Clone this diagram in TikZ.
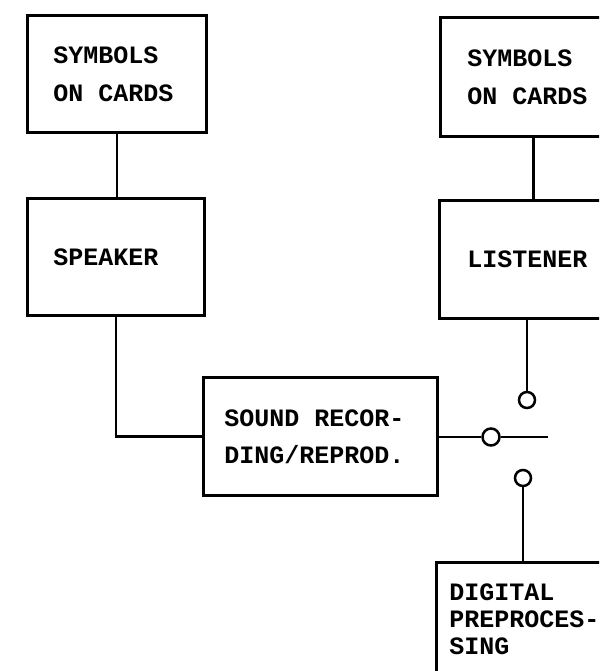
\documentclass[tikz,border=0pt]{standalone}
\usepackage{fontspec}
\setmonofont{Liberation Mono}
% fixed-width gap between typewritten words
\newcommand\tgap{\kern0.6em\relax}
\begin{document}
\begin{tikzpicture}[x=1pt,y=-1pt,
  wire/.style={line width=2.8pt},
  blk/.style={draw, line width=2.8pt, rectangle, anchor=north west, align=left,
    inner ysep=0pt, font=\ttfamily\bfseries\fontsize{25}{38}\selectfont},
  contact/.style={draw, circle, line width=2.5pt, minimum size=16pt, inner sep=0pt}]
\useasboundingbox (0,0) rectangle (599,671);
\clip (0,0) rectangle (599,671);

% speaker side
\node[blk, minimum height=117pt, text width=127pt, inner xsep=26pt] (cardsA) at (26,14) {SYMBOLS\\ON\tgap CARDS};
\node[blk, minimum height=117pt, text width=125pt, inner xsep=26pt] (speaker) at (26,197) {SPEAKER};

% listener side
\node[blk, minimum height=119pt, text width=132pt, inner xsep=27pt] (cardsB) at (439,16) {SYMBOLS\\ON\tgap CARDS};
\node[blk, minimum height=118pt, text width=132pt, inner xsep=28pt] (listener) at (438,199) {LISTENER};

% recorder and preprocessor
\node[blk, minimum height=118pt, text width=192pt, inner xsep=21pt,
  font=\ttfamily\bfseries\fontsize{25}{37}\selectfont] (sound) at (202,376) {SOUND\tgap RECOR-\\DING/REPROD.};
\node[blk, text width=176pt, inner xsep=13pt, inner ysep=21pt,
  font=\ttfamily\bfseries\fontsize{25}{27}\selectfont] (digital) at (435,561) {DIGITAL\\PREPROCES-\\SING\rule[-60pt]{0pt}{0pt}};

% switch contacts
\node[contact] (swup) at (527,400) {};
\node[contact, minimum size=17pt] (swmid) at (491,437) {};
\node[contact] (swlow) at (523,478) {};
\coordinate (swend) at (548,437);

% wiring
\draw[wire] (cardsA.south) -- (cardsA.south |- speaker.north);
\draw[wire] (speaker.south) |- (sound.west);
\draw[wire] (cardsB.south) -- (cardsB.south |- listener.north);
\draw[wire] (swup.north) -- (swup.north |- listener.south);
\draw[wire] (sound.east |- swmid.west) -- (swmid.west);
\draw[wire] (swmid.east) -- (swend);
\draw[wire] (swlow.south) -- (swlow.south |- digital.north);
\end{tikzpicture}
\end{document}
